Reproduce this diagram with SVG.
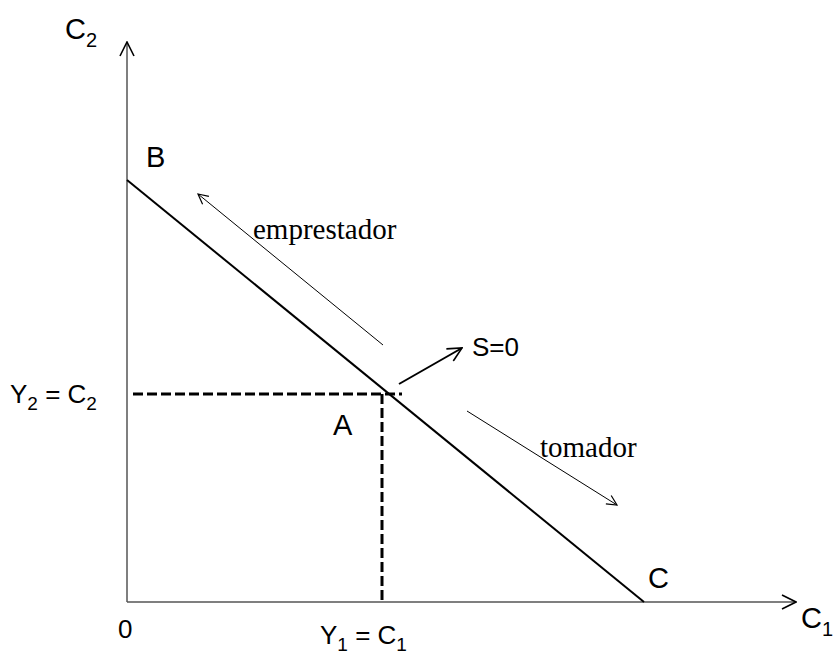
<svg xmlns="http://www.w3.org/2000/svg" width="837" height="654" viewBox="0 0 837 654">
<defs>
<style>
.sans{font-family:"Liberation Sans",Arial,sans-serif;fill:#000}
.serif{font-family:"Liberation Serif","Times New Roman",serif;fill:#000}
.axis{stroke:#555;stroke-width:1.5;fill:none}
.thin{stroke:#000;stroke-width:1;fill:none}
.dash{stroke:#000;stroke-width:3;stroke-dasharray:10,4;fill:none}
</style>
<marker id="open" viewBox="0 0 12 12" refX="11" refY="6" markerWidth="12" markerHeight="12" markerUnits="userSpaceOnUse" orient="auto">
<path d="M1,1 L11,6 L1,11" fill="none" stroke="#000" stroke-width="1.2"/>
</marker>
<marker id="open2" viewBox="0 0 16 16" refX="15" refY="8" markerWidth="16" markerHeight="16" markerUnits="userSpaceOnUse" orient="auto">
<path d="M1,1 L15,8 L1,15" fill="none" stroke="#000" stroke-width="1.6"/>
</marker>
</defs>
<rect width="837" height="654" fill="#fff"/>
<g id="connectors">
<line class="axis" x1="127" y1="602" x2="127" y2="42" marker-end="url(#open2)"/>
<line class="axis" x1="127" y1="602" x2="796" y2="602" marker-end="url(#open2)"/>
<line x1="127" y1="180" x2="644" y2="602" stroke="#000" stroke-width="2"/>
<line class="dash" x1="133" y1="394" x2="402" y2="394"/>
<line class="dash" x1="382" y1="394" x2="382" y2="602"/>
<line x1="399" y1="384" x2="462" y2="348" stroke="#000" stroke-width="2" marker-end="url(#open2)"/>
<line class="thin" x1="383" y1="345" x2="198" y2="194" marker-end="url(#open)"/>
<line class="thin" x1="467" y1="411" x2="617" y2="505" marker-end="url(#open)"/>
</g>
<g id="node-C2axis"><text class="sans" x="65" y="39" font-size="29">C<tspan font-size="20" dy="8">2</tspan></text></g>
<g id="node-B"><text class="sans" x="146" y="167" font-size="29">B</text></g>
<g id="node-A"><text class="sans" x="333" y="435" font-size="29">A</text></g>
<g id="node-C"><text class="sans" x="648" y="588" font-size="29">C</text></g>
<g id="node-S0"><text class="sans" x="472" y="356" font-size="26">S=0</text></g>
<g id="node-empresador"><text class="serif" x="253" y="239" font-size="29">emprestador</text></g>
<g id="node-tomador"><text class="serif" x="540" y="457" font-size="29">tomador</text></g>
<g id="node-Y2"><text class="sans" x="10" y="403" font-size="26">Y<tspan font-size="19" dy="7">2</tspan><tspan dy="-7"> = C</tspan><tspan font-size="19" dy="7">2</tspan></text></g>
<g id="node-0"><text class="sans" x="118" y="638" font-size="26">0</text></g>
<g id="node-Y1"><text class="sans" x="320" y="644" font-size="26">Y<tspan font-size="19" dy="7">1</tspan><tspan dy="-7"> = C</tspan><tspan font-size="19" dy="7">1</tspan></text></g>
<g id="node-C1axis"><text class="sans" x="801" y="628" font-size="29">C<tspan font-size="20" dy="8">1</tspan></text></g>
</svg>
